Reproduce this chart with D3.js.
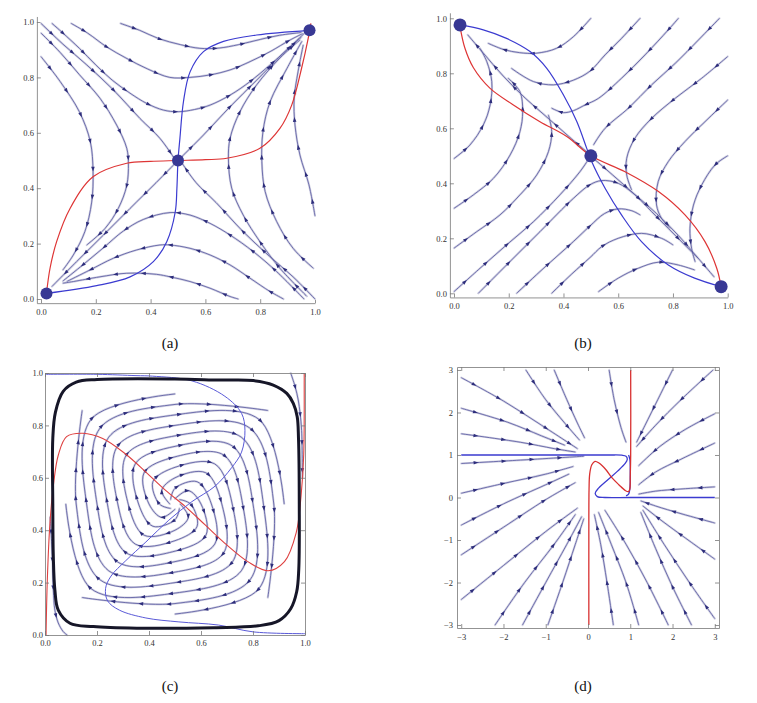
<!DOCTYPE html>
<html>
<head>
<meta charset="utf-8">
<script src="https://cdn.jsdelivr.net/npm/d3@7"></script>
<style>
body { margin: 0; background: #fff; }
svg { display: block; }
</style>
</head>
<body>
<svg id="fig" width="757" height="703"></svg>
<script>
// ---------- panel (a) ----------
var aNodes = [[0.02, 0.02], [0.5, 0.5], [0.98, 0.97]];
var aRed = [[0.02,0.02],[0.033,0.111],[0.057,0.207],[0.106,0.327],[0.191,0.442],[0.313,0.49],[0.4,0.497],[0.5,0.5],[0.6,0.503],[0.678,0.508],[0.799,0.544],[0.872,0.616],[0.915,0.70],[0.951,0.833],[0.975,0.94],[0.985,0.995]];
var aBlue = [[0.02,0.02],[0.203,0.048],[0.325,0.08],[0.41,0.135],[0.459,0.207],[0.49,0.315],[0.496,0.40],[0.5,0.5],[0.507,0.58],[0.52,0.713],[0.544,0.82],[0.593,0.893],[0.666,0.93],[0.787,0.953],[0.98,0.97]];
var aStreams = [
  [[0.29,0.995],[0.36,0.97],[0.43,0.94],[0.51,0.918],[0.58,0.905],[0.65,0.906],[0.72,0.918],[0.80,0.937],[0.87,0.952],[0.95,0.962]],
  [[0.11,0.995],[0.17,0.96],[0.24,0.91],[0.31,0.87],[0.39,0.83],[0.47,0.80],[0.544,0.80],[0.617,0.809],[0.69,0.827],[0.763,0.857],[0.836,0.893],[0.909,0.935],[0.955,0.958]],
  [[0.04,0.995],[0.08,0.96],[0.14,0.905],[0.20,0.845],[0.26,0.79],[0.325,0.743],[0.386,0.706],[0.447,0.682],[0.50,0.676],[0.56,0.684],[0.617,0.70],[0.69,0.736],[0.763,0.785],[0.836,0.845],[0.896,0.898],[0.95,0.945]],
  [[0.0,0.995],[0.08,0.92],[0.167,0.845],[0.264,0.755],[0.361,0.652],[0.434,0.58],[0.485,0.51]],
  [[0.0,0.96],[0.07,0.89],[0.14,0.81],[0.215,0.725],[0.276,0.628],[0.313,0.544],[0.319,0.49],[0.313,0.41],[0.282,0.327],[0.234,0.255],[0.167,0.195]],
  [[0.0,0.875],[0.07,0.785],[0.14,0.676],[0.18,0.568],[0.19,0.46],[0.185,0.35],[0.16,0.243],[0.118,0.159],[0.08,0.105]],
  [[0.49,0.49],[0.42,0.42],[0.325,0.327],[0.228,0.231],[0.13,0.135],[0.04,0.045]],
  [[0.51,0.51],[0.593,0.592],[0.69,0.694],[0.787,0.79],[0.884,0.887],[0.96,0.958]],
  [[0.96,0.0],[0.86,0.099],[0.775,0.171],[0.69,0.231],[0.617,0.273],[0.544,0.303],[0.471,0.312],[0.373,0.287],[0.30,0.245],[0.228,0.185],[0.155,0.125],[0.08,0.065]],
  [[0.885,0.0],[0.836,0.027],[0.763,0.075],[0.69,0.123],[0.617,0.159],[0.544,0.183],[0.471,0.195],[0.434,0.195],[0.349,0.177],[0.264,0.147],[0.179,0.105],[0.094,0.063]],
  [[0.72,0.0],[0.69,0.009],[0.617,0.039],[0.544,0.063],[0.471,0.08],[0.422,0.089],[0.313,0.093],[0.215,0.08],[0.118,0.063],[0.08,0.057]],
  [[1.0,0.0],[0.92,0.08],[0.833,0.155],[0.736,0.245],[0.639,0.348],[0.566,0.42],[0.515,0.49]],
  [[1.0,0.30],[0.978,0.412],[0.945,0.52],[0.927,0.628],[0.924,0.725],[0.938,0.82],[0.957,0.917]],
  [[0.994,0.111],[0.92,0.183],[0.86,0.28],[0.818,0.388],[0.806,0.496],[0.81,0.604],[0.836,0.712],[0.898,0.833],[0.952,0.93]],
  [[0.97,0.01],[0.872,0.111],[0.799,0.207],[0.738,0.303],[0.696,0.40],[0.684,0.508],[0.69,0.58],[0.726,0.676],[0.787,0.773],[0.872,0.87],[0.945,0.935]]
];

// ---------- panel (b) ----------
var bNodes = [[0.022, 0.976], [0.5, 0.5], [0.976, 0.024]];
var bRed = [[0.022,0.97],[0.04,0.891],[0.071,0.82],[0.132,0.745],[0.217,0.685],[0.314,0.624],[0.412,0.57],[0.5,0.5],[0.625,0.442],[0.747,0.37],[0.844,0.285],[0.917,0.188],[0.96,0.091],[0.976,0.024]];
var bBlue = [[0.022,0.976],[0.107,0.958],[0.192,0.927],[0.278,0.879],[0.339,0.818],[0.4,0.721],[0.449,0.624],[0.485,0.527],[0.503,0.479],[0.552,0.382],[0.612,0.285],[0.685,0.188],[0.783,0.103],[0.879,0.055],[0.976,0.024]];
var bStreams = [
  [[0.0,0.49],[0.058,0.539],[0.107,0.612],[0.132,0.685],[0.138,0.77],[0.12,0.842],[0.095,0.891]],
  [[0.0,0.309],[0.071,0.358],[0.144,0.418],[0.205,0.503],[0.241,0.588],[0.251,0.661],[0.241,0.733],[0.198,0.782]],
  [[0.0,0.164],[0.083,0.224],[0.168,0.285],[0.241,0.358],[0.302,0.43],[0.345,0.515],[0.357,0.588],[0.345,0.648]],
  [[0.0,0.006],[0.095,0.091],[0.192,0.176],[0.29,0.26],[0.387,0.358],[0.46,0.442],[0.49,0.485]],
  [[0.089,0.0],[0.192,0.103],[0.314,0.224],[0.436,0.345],[0.497,0.395],[0.54,0.41],[0.60,0.40],[0.661,0.358],[0.722,0.297],[0.783,0.236],[0.843,0.176],[0.892,0.127]],
  [[0.229,0.0],[0.314,0.079],[0.436,0.188],[0.497,0.245],[0.55,0.29],[0.60,0.307],[0.65,0.30],[0.68,0.285]],
  [[0.357,0.0],[0.43,0.07],[0.497,0.13],[0.54,0.17],[0.60,0.2],[0.685,0.218],[0.758,0.2],[0.80,0.176]],
  [[0.528,0.006],[0.60,0.055],[0.673,0.091],[0.746,0.113],[0.819,0.103],[0.879,0.085]],
  [[0.5,1.0],[0.436,0.933],[0.375,0.891],[0.30,0.873],[0.24,0.875],[0.18,0.887],[0.125,0.909]],
  [[0.68,1.0],[0.612,0.927],[0.552,0.867],[0.497,0.808],[0.436,0.775],[0.363,0.758],[0.29,0.77],[0.21,0.818]],
  [[0.82,1.0],[0.783,0.958],[0.698,0.867],[0.612,0.782],[0.528,0.709],[0.479,0.685],[0.436,0.664],[0.40,0.657],[0.357,0.673]],
  [[0.97,1.0],[0.893,0.921],[0.808,0.836],[0.722,0.758],[0.637,0.673],[0.552,0.6],[0.51,0.54]],
  [[1.0,0.5],[0.954,0.467],[0.905,0.394],[0.875,0.321],[0.862,0.236],[0.868,0.164],[0.881,0.115]],
  [[1.0,0.703],[0.917,0.624],[0.844,0.552],[0.783,0.479],[0.746,0.406],[0.74,0.321],[0.758,0.273],[0.789,0.236]],
  [[1.0,0.861],[0.905,0.782],[0.808,0.709],[0.722,0.636],[0.661,0.564],[0.631,0.491],[0.631,0.43],[0.649,0.376]],
  [[0.49,0.51],[0.42,0.57],[0.34,0.64],[0.26,0.71],[0.18,0.79],[0.11,0.87],[0.05,0.94]],
  [[0.51,0.49],[0.58,0.43],[0.66,0.36],[0.74,0.29],[0.82,0.21],[0.89,0.13],[0.95,0.06]]
];

// ---------- panel (c) ----------
var cCycle = [[0.2,0.975],[0.5,0.977],[0.673,0.973],[0.801,0.971],[0.878,0.954],[0.93,0.922],[0.955,0.884],[0.97,0.833],[0.975,0.75],[0.978,0.5],[0.976,0.25],[0.968,0.165],[0.945,0.1],[0.9,0.055],[0.82,0.035],[0.65,0.028],[0.353,0.026],[0.186,0.032],[0.096,0.045],[0.051,0.095],[0.038,0.172],[0.032,0.3],[0.03,0.5],[0.03,0.75],[0.04,0.85],[0.07,0.93],[0.12,0.965]];
var cRed = [[0.004,0.0],[0.009,0.213],[0.019,0.426],[0.032,0.568],[0.051,0.686],[0.083,0.757],[0.145,0.77],[0.222,0.75],[0.311,0.69],[0.388,0.622],[0.464,0.552],[0.54,0.49],[0.616,0.42],[0.692,0.35],[0.78,0.28],[0.858,0.245],[0.921,0.28],[0.966,0.39],[0.985,0.533],[0.995,0.686],[0.997,0.97],[0.997,1.0]];
var cBlue = [[0.0,0.995],[0.2,0.995],[0.35,0.99],[0.413,0.988],[0.565,0.97],[0.692,0.911],[0.756,0.846],[0.769,0.781],[0.756,0.698],[0.718,0.639],[0.654,0.568],[0.565,0.509],[0.476,0.438],[0.388,0.355],[0.311,0.284],[0.254,0.225],[0.233,0.178],[0.241,0.13],[0.286,0.095],[0.388,0.065],[0.515,0.05],[0.667,0.038],[0.8,0.012],[1.0,0.005]];
var cStreams = [
  [[0.52,0.5],[0.551,0.449],[0.5,0.4],[0.381,0.381],[0.32,0.5],[0.313,0.687],[0.5,0.76],[0.755,0.755],[0.84,0.5],[0.823,0.177],[0.5,0.08]],
  [[0.517,0.483],[0.5,0.44],[0.415,0.415],[0.36,0.5],[0.347,0.653],[0.5,0.72],[0.721,0.721],[0.8,0.5],[0.789,0.211],[0.5,0.12],[0.143,0.143]],
  [[0.5,0.48],[0.449,0.449],[0.4,0.5],[0.381,0.619],[0.5,0.68],[0.687,0.687],[0.76,0.5],[0.755,0.245],[0.5,0.16],[0.177,0.177],[0.08,0.5]],
  [[0.483,0.483],[0.44,0.5],[0.415,0.585],[0.5,0.64],[0.653,0.653],[0.72,0.5],[0.721,0.279],[0.5,0.2],[0.211,0.211],[0.12,0.5],[0.143,0.857]],
  [[0.48,0.5],[0.449,0.551],[0.5,0.6],[0.619,0.619],[0.68,0.5],[0.687,0.313],[0.5,0.24],[0.245,0.245],[0.16,0.5],[0.177,0.823],[0.5,0.92]],
  [[0.483,0.517],[0.5,0.56],[0.585,0.585],[0.64,0.5],[0.653,0.347],[0.5,0.28],[0.279,0.279],[0.2,0.5],[0.211,0.789],[0.5,0.88],[0.857,0.857]],
  [[0.5,0.52],[0.551,0.551],[0.6,0.5],[0.619,0.381],[0.5,0.32],[0.313,0.313],[0.24,0.5],[0.245,0.755],[0.5,0.84],[0.823,0.823],[0.92,0.5]],
  [[0.517,0.517],[0.56,0.5],[0.585,0.415],[0.5,0.36],[0.347,0.347],[0.28,0.5],[0.279,0.721],[0.5,0.8],[0.789,0.789],[0.88,0.5],[0.857,0.143]],
  [[0.945,1.0],[0.962,0.948],[0.974,0.897],[0.981,0.847],[0.987,0.78],[0.99,0.6]],
  [[0.02,0.45],[0.028,0.3],[0.032,0.172],[0.038,0.095],[0.051,0.046],[0.07,0.013],[0.085,0.0]]
];

// ---------- panel (d) ----------
var dRed = [[0.02,-3.0],[0.02,-1.0],[0.025,0.2],[0.04,0.55],[0.09,0.77],[0.165,0.85],[0.26,0.81],[0.42,0.66],[0.57,0.46],[0.73,0.3],[0.89,0.16],[0.96,0.14],[0.99,0.2],[1.0,0.5],[1.01,1.0],[1.01,3.0]];
var dBlue = [
  [[-3.0,1.0],[-1.0,1.0],[0.5,1.0],[0.8,0.995],[0.9,0.97],[0.93,0.9],[0.88,0.8],[0.7,0.62],[0.45,0.4],[0.25,0.22],[0.17,0.1],[0.22,0.02],[0.4,0.0],[1.0,0.0],[3.0,0.0]],
  [[0.96,1.0],[0.99,0.9],[1.0,0.6],[0.99,0.2],[0.96,0.08],[0.9,0.04]]
];
var dStreams = [
  [[-3.0,2.82],[-2.0,2.27],[-1.1,1.7],[-0.25,1.15]],
  [[-3.0,2.1],[-1.9,1.77],[-1.1,1.45],[-0.55,1.23]],
  [[-3.0,1.5],[-1.6,1.3],[-0.8,1.15],[-0.3,1.07]],
  [[-3.0,0.8],[-1.6,0.88],[-0.6,0.94],[-0.1,0.97]],
  [[-3.0,0.1],[-2.0,0.33],[-1.0,0.55],[-0.35,0.73]],
  [[-3.0,-0.65],[-2.0,-0.15],[-1.0,0.3],[-0.45,0.55]],
  [[-3.0,-1.35],[-2.0,-0.7],[-1.0,-0.05],[-0.3,0.35]],
  [[-3.0,-2.4],[-2.0,-1.6],[-1.0,-0.8],[-0.25,-0.25]],
  [[-2.2,-3.0],[-1.5,-2.0],[-0.8,-1.1],[-0.3,-0.4]],
  [[-1.55,-3.0],[-1.0,-2.0],[-0.5,-1.1],[-0.15,-0.45]],
  [[-0.95,-3.0],[-0.6,-2.0],[-0.3,-1.1],[-0.1,-0.5]],
  [[0.6,-3.0],[0.45,-2.0],[0.3,-1.1],[0.15,-0.4]],
  [[1.2,-3.0],[0.9,-2.0],[0.55,-1.1],[0.25,-0.35]],
  [[1.9,-3.0],[1.4,-2.0],[0.9,-1.1],[0.4,-0.3]],
  [[2.45,-3.0],[2.0,-2.1],[1.6,-1.2],[1.25,-0.35]],
  [[3.0,-2.85],[2.4,-2.0],[1.8,-1.1],[1.3,-0.3]],
  [[3.0,-1.45],[2.3,-0.95],[1.75,-0.55],[1.3,-0.2]],
  [[3.0,-0.6],[2.2,-0.38],[1.6,-0.2],[1.25,-0.08]],
  [[3.0,0.25],[2.2,0.2],[1.6,0.15],[1.2,0.08]],
  [[3.0,1.28],[2.2,0.9],[1.6,0.6],[1.2,0.3]],
  [[3.0,1.97],[2.3,1.6],[1.7,1.2],[1.2,0.75]],
  [[2.96,3.0],[2.2,2.3],[1.6,1.7],[1.15,1.2]],
  [[2.0,3.0],[1.65,2.3],[1.35,1.7],[1.15,1.3]],
  [[0.5,3.0],[0.62,2.3],[0.78,1.65],[0.9,1.3]],
  [[-0.8,3.0],[-0.5,2.3],[-0.25,1.75],[-0.08,1.4]],
  [[-1.47,3.0],[-1.0,2.3],[-0.55,1.75],[-0.2,1.35]]
];

// tick values
var unitMajor = [0, 0.2, 0.4, 0.6, 0.8, 1.0];
var unitMinor = [0.05,0.1,0.15,0.25,0.3,0.35,0.45,0.5,0.55,0.65,0.7,0.75,0.85,0.9,0.95];
var dMajor = [-3, -2, -1, 0, 1, 2, 3];
var dMinor = d3.range(-3, 3.001, 0.2).filter(function(v){ return Math.abs(v - Math.round(v)) > 0.01; });

var captions = ["(a)", "(b)", "(c)", "(d)"];

var svg = d3.select("#fig");
var FONT = "'Liberation Serif', 'DejaVu Serif', serif";
var lineCol = "#55559f", haloCol = "#d3d3e3", arrowCol = "#2e2e7c";

var line = function(x, y, curve) {
  return d3.line().x(function(d){ return x(d[0]); }).y(function(d){ return y(d[1]); })
    .curve(curve || d3.curveCatmullRom.alpha(0.5));
};

function addArrows(g, node) {
  var L = node.getTotalLength();
  for (var s = 15; s < L - 6; s += 28) {
    var p = node.getPointAtLength(s), q = node.getPointAtLength(Math.min(L, s + 1));
    var ang = Math.atan2(q.y - p.y, q.x - p.x) * 180 / Math.PI;
    g.append("path")
      .attr("d", "M-2.6,-1.8L2.3,0L-2.6,1.8Z")
      .attr("transform", "translate(" + p.x + "," + p.y + ")rotate(" + ang + ")")
      .attr("fill", arrowCol);
  }
}

function drawStreams(g, lines, x, y) {
  var gen = line(x, y);
  g.selectAll(null).data(lines).enter().append("path")
    .attr("d", gen).attr("fill", "none")
    .attr("stroke", haloCol).attr("stroke-width", 2.2).attr("stroke-linecap", "round");
  var core = g.selectAll(null).data(lines).enter().append("path")
    .attr("d", gen).attr("fill", "none")
    .attr("stroke", lineCol).attr("stroke-width", 0.8);
  core.each(function(){ addArrows(g, this); });
}

function curvePath(g, pts, x, y, col, w) {
  g.append("path").datum(pts).attr("d", line(x, y))
    .attr("fill", "none").attr("stroke", col).attr("stroke-width", w);
}

function styleAxis(sel, fs) {
  sel.attr("font-family", FONT).attr("font-size", fs);
  sel.selectAll("path,line").attr("stroke", "#777").attr("stroke-width", 0.8);
  sel.selectAll("text").attr("fill", "#333");
}

// plain axes for (a) and (b)
function plainAxes(g, x, y) {
  var off = 0.015;
  var xs = d3.scaleLinear().domain([-off, 1.0]).range([x(-off), x(1.0)]);
  var ys = d3.scaleLinear().domain([-off, 1.02]).range([y(-off), y(1.02)]);
  var fmt = d3.format(".1f");
  var gx = g.append("g").attr("transform", "translate(0," + y(-off) + ")");
  gx.call(d3.axisBottom(xs).tickValues(unitMinor).tickSize(-2).tickSizeOuter(0).tickFormat(""));
  gx.call(d3.axisBottom(xs).tickValues(unitMajor).tickSize(-4).tickSizeOuter(0).tickPadding(6).tickFormat(fmt));
  styleAxis(gx, 8.5);
  var gy = g.append("g").attr("transform", "translate(" + x(-off) + ",0)");
  gy.call(d3.axisLeft(ys).tickValues(unitMinor).tickSize(-2).tickSizeOuter(0).tickFormat(""));
  gy.call(d3.axisLeft(ys).tickValues(unitMajor).tickSize(-4).tickSizeOuter(0).tickPadding(3).tickFormat(fmt));
  styleAxis(gy, 8.5);
}

// framed axes for (c) and (d)
function frameAxes(g, x, y, majX, minX, fmt, pad) {
  var x0 = x.range()[0], x1 = x.range()[1], y0 = y.range()[0], y1 = y.range()[1];
  var sides = [
    [d3.axisBottom, x, "translate(0," + y0 + ")", true],
    [d3.axisTop, x, "translate(0," + y1 + ")", false],
    [d3.axisLeft, y, "translate(" + x0 + ",0)", true],
    [d3.axisRight, y, "translate(" + x1 + ",0)", false]
  ];
  sides.forEach(function(s) {
    var ga = g.append("g").attr("transform", s[2]);
    ga.call(s[0](s[1]).tickValues(minX).tickSize(-2).tickSizeOuter(0).tickFormat(""));
    ga.call(s[0](s[1]).tickValues(majX).tickSize(-4).tickSizeOuter(0)
      .tickPadding(s[0] === d3.axisBottom ? pad[0] : pad[1])
      .tickFormat(s[3] ? fmt : ""));
    styleAxis(ga, 8.5);
  });
}

function nodes(g, pts, x, y, r) {
  g.selectAll(null).data(pts).enter().append("circle")
    .attr("cx", function(d){ return x(d[0]); }).attr("cy", function(d){ return y(d[1]); })
    .attr("r", r).attr("fill", "#383894");
}

// ---- (a)
var xA = d3.scaleLinear().domain([0, 1]).range([41, 315]);
var yA = d3.scaleLinear().domain([0, 1]).range([299, 22]);
var gA = svg.append("g");
plainAxes(gA, xA, yA);
drawStreams(gA, aStreams, xA, yA);
curvePath(gA, aRed, xA, yA, "#de3535", 1.2);
curvePath(gA, aBlue, xA, yA, "#3b3bd0", 1.2);
nodes(gA, aNodes, xA, yA, 6);

// ---- (b)
var xB = d3.scaleLinear().domain([0, 1]).range([454, 727.7]);
var yB = d3.scaleLinear().domain([0, 1]).range([293.3, 18.3]);
var gB = svg.append("g");
plainAxes(gB, xB, yB);
drawStreams(gB, bStreams, xB, yB);
curvePath(gB, bRed, xB, yB, "#de3535", 1.2);
curvePath(gB, bBlue, xB, yB, "#3b3bd0", 1.2);
nodes(gB, bNodes, xB, yB, 6.5);

// ---- (c)
var xC = d3.scaleLinear().domain([0, 1]).range([45, 305]);
var yC = d3.scaleLinear().domain([0, 1]).range([635, 373]);
var gC = svg.append("g");
drawStreams(gC, cStreams, xC, yC);
curvePath(gC, cRed, xC, yC, "#de4040", 1.1);
curvePath(gC, cBlue, xC, yC, "#5a5ad8", 1.0);
gC.append("path").datum(cCycle)
  .attr("d", line(xC, yC, d3.curveCatmullRomClosed.alpha(0.5)))
  .attr("fill", "none").attr("stroke", "#161628").attr("stroke-width", 3);
frameAxes(gC, xC, yC, unitMajor, unitMinor, d3.format(".1f"), [5, 2]);

// ---- (d)
var xD = d3.scaleLinear().domain([-3.1, 3.1]).range([457, 719]);
var yD = d3.scaleLinear().domain([-3.07, 3.07]).range([628, 367]);
var gD = svg.append("g");
drawStreams(gD, dStreams, xD, yD);
dBlue.forEach(function(b){ curvePath(gD, b, xD, yD, "#3b3bd0", 1.3); });
curvePath(gD, dRed, xD, yD, "#d83030", 1.3);
frameAxes(gD, xD, yD, dMajor, dMinor,
  function(d){ return d < 0 ? "\u2212" + (-d) : String(d); }, [6, 4]);

// captions
var capPos = [[170, 348], [583, 348], [170, 691], [583, 691]];
svg.selectAll(null).data(captions).enter().append("text")
  .attr("x", function(d, i){ return capPos[i][0]; })
  .attr("y", function(d, i){ return capPos[i][1]; })
  .attr("text-anchor", "middle")
  .attr("font-family", FONT).attr("font-size", 15).attr("fill", "#111")
  .text(function(d){ return d; });
</script>
</body>
</html>
